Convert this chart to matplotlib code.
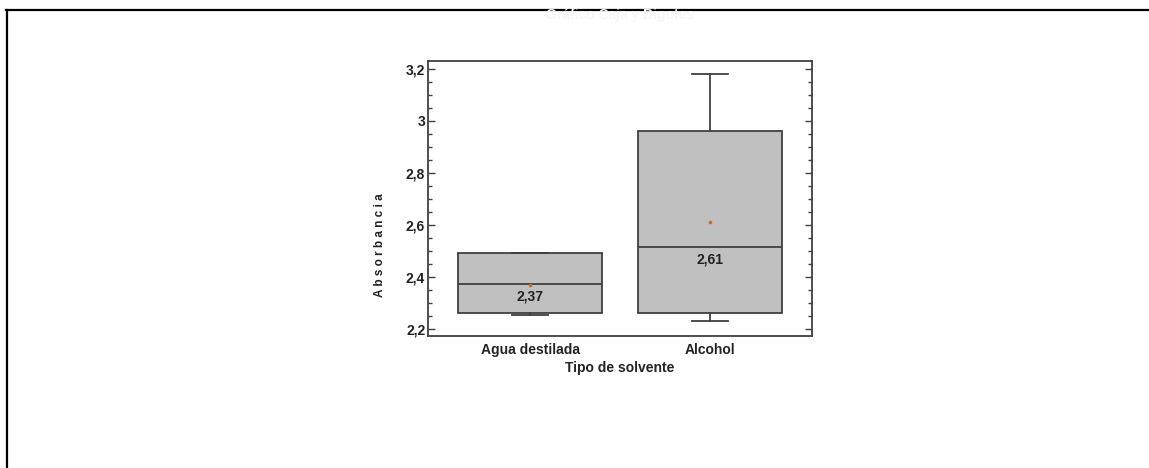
import matplotlib
matplotlib.use("Agg")
import matplotlib.pyplot as plt
from matplotlib.lines import Line2D
from matplotlib.ticker import MultipleLocator, FuncFormatter

# Box summaries per solvent
categories = ["Agua destilada", "Alcohol"]
whisker_low = [2.252, 2.231]
q1 = [2.26, 2.26]
medians = [2.371, 2.515]
q3 = [2.49, 2.96]
whisker_high = [2.49, 3.181]
means = [2.37, 2.61]

FONT = ["Liberation Sans Narrow", "Liberation Sans", "DejaVu Sans"]
plt.rcParams["font.family"] = FONT

fig = plt.figure(figsize=(11.49, 4.68), dpi=100)
ax = fig.add_axes([428 / 1149, 132 / 468, 384 / 1149, 275 / 468])

stats = []
for i, name in enumerate(categories):
    stats.append(dict(label=name, whislo=whisker_low[i], q1=q1[i], med=medians[i],
                      q3=q3[i], whishi=whisker_high[i], mean=means[i], fliers=[]))

edge = "#404040"
positions = list(range(1, len(categories) + 1))
ax.bxp(stats, positions=positions, widths=0.8, patch_artist=True, showmeans=True,
       boxprops=dict(facecolor="#c0c0c0", edgecolor=edge, linewidth=1.3),
       medianprops=dict(color=edge, linewidth=1.3),
       whiskerprops=dict(color=edge, linewidth=1.3),
       capprops=dict(color=edge, linewidth=1.3),
       capwidths=0.2,
       meanprops=dict(marker="o", markersize=1.6, markerfacecolor="#d2691e",
                      markeredgecolor="#d2691e"))

# Mean value printed under each median line
for pos, med, mean in zip(positions, medians, means):
    ax.annotate(f"{mean:.2f}".replace(".", ","), xy=(pos, med), xytext=(0, -4),
                textcoords="offset points", ha="center", va="top",
                fontsize=10, fontweight="bold", color="#222222")

ax.set_xlim(0.433, 2.567)
ax.set_ylim(2.172, 3.231)
ax.yaxis.set_major_locator(MultipleLocator(0.2))
ax.yaxis.set_minor_locator(MultipleLocator(0.05))
ax.yaxis.set_major_formatter(FuncFormatter(lambda v, p: f"{v:g}".replace(".", ",")))
ax.tick_params(axis="y", which="both", direction="in", left=True, right=True,
               colors="#404040", labelcolor="#222222", labelsize=10, pad=2)
ax.tick_params(axis="y", which="major", length=5, width=1.0)
ax.tick_params(axis="y", which="minor", length=3, width=1.0)
ax.tick_params(axis="x", length=0, labelsize=10, labelcolor="#222222", pad=5)
for lab in ax.get_xticklabels() + ax.get_yticklabels():
    lab.set_fontweight("bold")
for sp in ax.spines.values():
    sp.set_color("#404040")
    sp.set_linewidth(1.3)

ax.set_xlabel("Tipo de solvente", fontsize=10, fontweight="bold", color="#222222",
              labelpad=3)

fig.text(380 / 1149, 1 - 245 / 468, "A b s o r b a n c i a", rotation=90,
         ha="center", va="center", fontsize=8.5, fontweight="bold", color="#222222")

fig.text(620 / 1149, 1 - 15 / 468, "Gráfico Caja y Bigotes", ha="center",
         va="center", fontsize=10, fontweight="bold", color="#f7f7f7")

# Outer frame: top and left edges
fig.add_artist(Line2D([6 / 1149, 1148 / 1149], [1 - 9.5 / 468, 1 - 9.5 / 468],
                      transform=fig.transFigure, color="black", linewidth=1.6))
fig.add_artist(Line2D([6.5 / 1149, 6.5 / 1149], [0, 1 - 9.5 / 468],
                      transform=fig.transFigure, color="black", linewidth=1.6))

fig.savefig("out.png", dpi=100)
